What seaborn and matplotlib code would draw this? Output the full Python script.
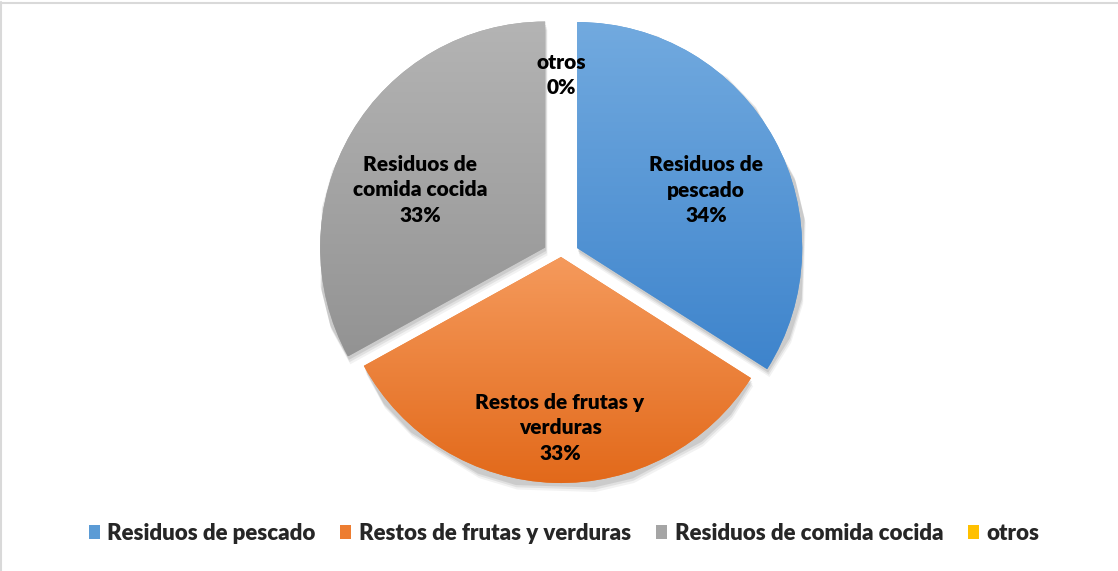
import numpy as np
import matplotlib
matplotlib.use("Agg")
import matplotlib.pyplot as plt
import seaborn as sns
from matplotlib.patches import Rectangle
from matplotlib.lines import Line2D
from matplotlib.colors import LinearSegmentedColormap

# ---- data ----
categories = ["Residuos de pescado", "Restos de frutas y verduras",
              "Residuos de comida cocida", "otros"]
values = [34, 33, 33, 0]
pie_labels = ["Residuos de\npescado", "Restos de frutas y\nverduras",
              "Residuos de\ncomida cocida", "otros"]

# ---- style ----
top_colors = ["#72aadf", "#f59a5c", "#b4b4b4", "#ffd030"]
bottom_colors = ["#3e84cc", "#e2691a", "#939393", "#f0b400"]
legend_colors = ["#5b9bd5", "#ed7d31", "#a5a5a5", "#ffc000"]
label_pos = [(706, 190), (560, 428), (420, 190), (561, 75)]  # pixel centres of text blocks

sns.set_theme(style="white")
plt.rcParams["font.family"] = ["Lato", "DejaVu Sans"]

W, H = 1118, 571
fig = plt.figure(figsize=(W / 100, H / 100), dpi=100)
ax = fig.add_axes([0, 0, 1, 1])

# pixel geometry of the pie
cx, cy = 561, 257
rx, ry = 225.0, 226.0

explode = [0.082, 0.0, 0.082, 0.0]
wedges, _ = ax.pie(values, explode=explode, startangle=90, counterclock=False,
                   colors=legend_colors, radius=1.0,
                   wedgeprops=dict(linewidth=0))

ax.set_aspect("auto")
ax.axis("off")

# gradient fill + soft shadow per wedge
for i, w in enumerate(wedges):
    if values[i] == 0:
        w.set_visible(False)
        continue
    verts = w.get_path().vertices
    x0, x1 = verts[:, 0].min(), verts[:, 0].max()
    y0, y1 = verts[:, 1].min(), verts[:, 1].max()
    for k, a in zip([0.035, 0.025, 0.015], [0.05, 0.07, 0.09]):
        sh = plt.Polygon(verts + np.array([k * 0.3, -k]), closed=True,
                         facecolor="black", alpha=a, linewidth=0, zorder=1)
        ax.add_patch(sh)
    w.set_zorder(2)
    cmap = LinearSegmentedColormap.from_list(f"g{i}", [bottom_colors[i], top_colors[i]])
    grad = np.linspace(0, 1, 256).reshape(-1, 1)
    im = ax.imshow(grad, extent=[x0, x1, y0, y1], origin="lower", cmap=cmap,
                   aspect="auto", zorder=3, interpolation="bilinear")
    im.set_clip_path(w)

ax.set_xlim(-cx / rx, (W - cx) / rx)
ax.set_ylim(-(H - cy) / ry, cy / ry)

# labels
total = sum(values)
for lab, v, (px, py) in zip(pie_labels, values, label_pos):
    txt = f"{lab}\n{round(100 * v / total)}%"
    ax.text((px - cx) / rx, (cy - py) / ry, txt, ha="center", va="center",
            fontsize=15, fontweight="heavy", color="black",
            linespacing=1.4, zorder=5)

# legend
handles = [Rectangle((0, 0), 1, 1, facecolor=c, linewidth=0) for c in legend_colors]
fig.legend(handles, categories, loc="center", bbox_to_anchor=(564 / W, 1 - 533 / H),
           ncol=4, frameon=False, handlelength=0.5, handleheight=0.6,
           handletextpad=0.35, columnspacing=1.1,
           prop=dict(family=["Lato", "DejaVu Sans"], weight="heavy", size=16))

# chart area border (left and top visible)
fig.add_artist(Line2D([1.5 / W, 1.5 / W], [0, 1 - 2 / H], color="#d9d9d9", lw=1.5))
fig.add_artist(Line2D([1.5 / W, 1], [1 - 2.5 / H, 1 - 2.5 / H], color="#d9d9d9", lw=1.5))

fig.savefig("out.png", dpi=100)
